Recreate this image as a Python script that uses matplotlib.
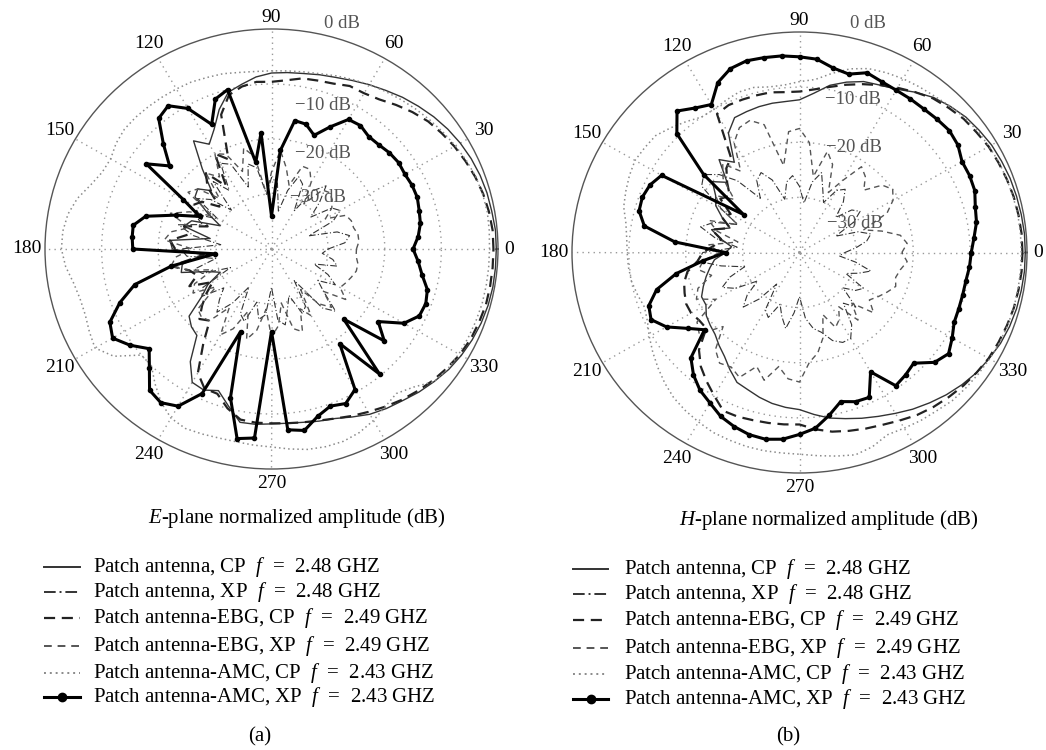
import numpy as np
import matplotlib
matplotlib.use("Agg")
import matplotlib.pyplot as plt
from matplotlib.lines import Line2D

plt.rcParams['font.family'] = ['Liberation Serif', 'DejaVu Serif']
plt.rcParams['mathtext.fontset'] = 'custom'
plt.rcParams['mathtext.rm'] = 'Liberation Serif'
plt.rcParams['mathtext.it'] = 'Liberation Serif:italic'

# angles every 5 degrees, 0..355
angles_deg = np.arange(0, 360, 5)

# ---------------- (a) E-plane, normalized amplitude in dB ----------------
e_patch_cp = [-0.3, -0.3, -0.5, -0.6, -0.8, -1.1, -1.5, -2, -2.6, -3.3, -4, -4.8,
              -5.5, -6.2, -6.8, -7.2, -7.6, -7.8, -8, -8.6, -9.6, -10.5, -13, -16,
              -18, -16, -21, -25, -23, -23.5, -27, -30, -25, -24, -29, -22,
              -22.5, -28, -24, -23.5, -28, -30, -27, -25, -21, -20, -19.5, -15,
              -12, -11.7, -12.6, -10.5, -8, -8, -8.2, -8.2, -8, -7.6, -7.2, -6.3,
              -5.3, -4.6, -4, -3.2, -2.5, -1.8, -1.3, -0.9, -0.6, -0.4, -0.3, -0.3]
e_patch_xp = [-30, -27, -26, -28, -33, -28, -26, -27, -31, -28, -25, -27,
              -32, -27, -26, -29, -33, -28, -27, -30, -25, -24, -28, -23,
              -22, -27, -24, -30, -26, -24, -29, -25, -27, -23, -26, -31,
              -24, -25, -30, -26, -27, -32, -26, -25, -29, -27, -25, -28,
              -32, -27, -26, -30, -27, -28, -33, -27, -26, -29, -31, -27,
              -28, -33, -26, -24, -28, -30, -27, -29, -32, -28, -29, -31]
e_ebg_cp = [-0.8, -0.8, -1, -1.3, -1.7, -2.2, -2.7, -3.3, -3.9, -4.8, -5.8, -6.8,
            -7.3, -7.3, -8, -8.3, -8.5, -9.2, -9.6, -9.5, -10, -11, -14, -22,
            -20, -26, -22, -24, -28, -25, -24, -26, -28, -24, -25, -22,
            -23, -28, -22, -25, -26, -24, -28, -26, -24, -22, -23, -19,
            -14, -12, -12, -10, -8.5, -8.3, -8.3, -8.2, -8, -7.7, -7.2, -6.5,
            -5.8, -5, -4.2, -3.5, -2.8, -2.2, -1.6, -1.2, -1, -0.8, -0.8, -0.8]
e_ebg_xp = [-25, -24.5, -24.5, -25, -25, -25.5, -29, -27, -26, -25.5, -26, -30,
            -26, -24, -24, -28, -25, -22, -26, -30, -23, -21, -25, -21,
            -20, -24, -22, -27, -23, -22, -28, -24, -21, -25, -22, -21,
            -26, -23, -22, -25, -29, -25, -24, -28, -23, -22.5, -23, -27,
            -22, -24, -28, -23, -25, -29, -24, -26, -30, -25, -24, -28,
            -26, -31, -27, -25, -28, -24, -26, -25.5, -25, -24.5, -24.5, -25]
e_amc_cp = [-1.5, -1.4, -1.3, -1.4, -1.6, -2, -2.5, -3, -3.5, -4, -4.5, -5,
            -5.5, -6, -6.5, -7, -7.3, -7.5, -7.6, -7.6, -7.4, -7, -6.8, -6.5,
            -6.4, -6.3, -6.2, -6.1, -6.1, -6.5, -7.2, -7, -6, -4.5, -3.5, -3,
            -2.9, -3.5, -4.5, -5, -5, -4.5, -4, -6, -10, -10, -8, -6,
            -4.5, -4, -4.2, -4.4, -4.4, -4.2, -4, -3.5, -3, -2.8, -2.8, -3.2,
            -4, -5, -5.7, -4.5, -2.5, -2, -1.8, -1.7, -1.6, -1.5, -1.5, -1.5]
e_amc_xp = [-15, -14, -13.3, -13, -12.6, -12.6, -12.8, -12.6, -12.8, -13.2, -13.3, -12.6,
            -12.8, -15.5, -18, -16.5, -16.3, -22, -34, -18.8, -24, -10, -11, -15,
            -10.5, -8.2, -9, -13, -16.5, -13, -22, -26, -22, -17, -15.2, -15.3,
            -15.5, -30, -22, -15, -11.5, -8.5, -7.6, -9.5, -11.8, -9.5, -6.5, -5.9,
            -7, -11, -24, -12, -5, -5.5, -25, -7, -6.5, -8.5, -9.6, -9,
            -10.5, -19, -10.3, -22, -14, -17, -13, -11.2, -11, -11.5, -13, -14]

# ---------------- (b) H-plane, normalized amplitude in dB ----------------
h_patch_cp = [-0.3, -0.3, -0.4, -0.5, -0.6, -0.8, -1, -1.4, -1.8, -2.5, -3.3, -4.5,
              -5.8, -6.5, -7, -8, -9.2, -11, -12.3, -12.5, -12.5, -12.6, -12.8, -13,
              -15, -20, -18, -22, -20, -22, -23, -25, -27, -24, -26, -28,
              -27, -25, -24, -23, -22, -21, -21, -20, -19.5, -19, -18, -17,
              -15.5, -14, -13.5, -12.8, -12.2, -11.8, -11.5, -10.5, -9.5, -8.8, -8, -7.2,
              -6.3, -5.3, -4.4, -3.5, -2.7, -2, -1.5, -1, -0.7, -0.5, -0.4, -0.3]
h_patch_xp = [-32, -30, -28, -27, -29, -33, -29, -27, -28, -31, -28, -26,
              -27, -30, -28, -25, -27, -31, -28, -26, -27, -30, -26, -24,
              -25, -28, -23, -20, -18, -19, -24, -28, -24, -22, -25, -29,
              -23, -22, -26, -30, -27, -25, -27, -31, -28, -26, -29, -33,
              -28, -27, -30, -28, -26, -29, -32, -28, -26, -25, -23, -22,
              -22, -24, -28, -26, -30, -28, -27, -31, -29, -27, -30, -33]
h_ebg_cp = [-0.8, -0.8, -0.9, -1, -1.2, -1.4, -1.6, -2, -2.3, -2.9, -3.5, -4.5,
            -5.5, -6.5, -7.5, -8.5, -9.5, -10.3, -10.8, -10.8, -10.5, -10.5, -10.5, -10.5,
            -11, -19, -20, -22, -24, -23, -26, -25, -27, -24, -26, -25,
            -23, -22, -20, -19, -18.5, -18, -18, -18.5, -18.6, -15, -13, -11.5,
            -10, -8.3, -8.3, -8.5, -8.6, -8.7, -8.8, -7.8, -7, -6.5, -6, -5.5,
            -4.8, -4, -3.4, -2.9, -2.4, -2, -1.6, -1.4, -1.2, -1, -0.9, -0.8]
h_ebg_xp = [-22, -21, -22, -25, -28, -23, -21, -20, -21, -24, -22, -21,
            -25, -28, -23, -21, -26, -20, -17.5, -18, -24, -16, -14.5, -15,
            -17, -22, -19, -21, -25, -22, -24, -28, -23, -25, -29, -24,
            -26, -23, -22, -24, -21, -20, -23, -18, -17, -21, -17, -15.5,
            -16, -15, -18, -16, -19, -17, -16.5, -20, -21.5, -24, -28, -25,
            -26, -28, -24, -27, -23, -25, -24, -23, -22, -22.5, -22, -21]
h_amc_cp = [-1, -1, -1, -1.1, -1.2, -1.3, -1.5, -1.7, -2, -2.5, -3, -3.3,
            -3.6, -4, -4.5, -5.5, -7, -8.5, -9, -9.5, -9.5, -9, -9, -9.5,
            -10, -10, -9, -8, -7, -6.8, -6.6, -7, -7.5, -8, -9, -9.5,
            -9.7, -9.8, -10, -10.5, -11, -10.5, -9.5, -8.5, -7.5, -6.5, -5.6, -5,
            -4.5, -4, -3.8, -3.6, -3.5, -3.5, -3.4, -3, -2.5, -2, -2.5, -3.5,
            -3.2, -2.8, -2.5, -2, -1.8, -1.6, -1.4, -1.2, -1.1, -1, -1, -1]
h_amc_xp = [-9.8, -9.2, -8.4, -8, -7.2, -7, -7, -6, -5.6, -5.8, -6, -6,
            -6, -5.8, -5.3, -6.5, -6, -4.8, -4.5, -4.2, -4.1, -4, -4.5, -6,
            -9, -8, -6.5, -9.5, -18, -28, -12, -11, -10.6, -10.8, -12.3, -18,
            -27, -23, -18, -14, -11.8, -11.2, -13, -16, -18.2, -13, -11, -9.5,
            -8.5, -7.2, -6.4, -5.8, -5.6, -6, -7, -8, -10, -12, -11.2, -11,
            -15, -10.5, -11, -11.6, -9, -8, -9, -10, -10.2, -10.3, -10.3, -10]

series_labels = ["Patch antenna, CP  $f$  =  2.48 GHZ",
                 "Patch antenna, XP  $f$  =  2.48 GHZ",
                 "Patch antenna-EBG, CP  $f$  =  2.49 GHZ",
                 "Patch antenna-EBG, XP  $f$  =  2.49 GHZ",
                 "Patch antenna-AMC, CP  $f$  =  2.43 GHZ",
                 "Patch antenna-AMC, XP  $f$  =  2.43 GHZ"]

# line styles, same order as series_labels
styles = [dict(color='#333333', lw=1.0, ls='-'),
          dict(color='#333333', lw=0.8, ls=(0, (6, 2, 1, 2))),
          dict(color='#222222', lw=1.6, ls=(0, (5, 3))),
          dict(color='#555555', lw=1.0, ls=(0, (4, 3))),
          dict(color='#8a8a8a', lw=1.1, ls=(0, (1, 2))),
          dict(color='black', lw=2.2, ls='-', marker='o', ms=3.0)]

# how far outside the circle each angle label sits (fraction of radius)
label_pos = {0: 1.05, 90: 1.05, 270: 1.065}

W, H = 1046, 750


def fx(px):
    return px / W


def fy(py):
    return 1 - py / H


def draw_panel(ax, curves):
    ax.set_aspect('auto')
    ax.set_rlim(-40, 0)
    ax.set_rticks([-30, -20, -10])
    ax.set_yticklabels([])
    ax.set_thetagrids(range(0, 360, 30))
    ax.set_xticklabels([])
    ax.grid(True, ls=(0, (1, 3)), color='#999999', lw=1.0)
    ax.spines['polar'].set_color('#555555')
    ax.spines['polar'].set_linewidth(1.0)

    theta = np.deg2rad(np.append(angles_deg, 360))
    for vals, st in zip(curves, styles):
        r = np.append(vals, vals[0])
        ax.plot(theta, r, **st)

    # angle labels outside the circle
    for a in range(0, 360, 30):
        f = label_pos.get(a, 1.08)
        ax.text(np.deg2rad(a), (f - 1) * 40, str(a), ha='center', va='center',
                fontsize=14, clip_on=False)


def draw_legend(fig, x0, x1, xt, rows):
    for (y, label, st) in zip(rows, series_labels, styles):
        if 'marker' in st:
            ln = Line2D([fx(x0), fx((x0 + x1) / 2), fx(x1)], [fy(y)] * 3,
                        transform=fig.transFigure, color='black', lw=2.2,
                        marker='o', ms=6, markevery=[1])
        else:
            ln = Line2D([fx(x0), fx(x1)], [fy(y), fy(y)],
                        transform=fig.transFigure, color=st['color'],
                        lw=max(st['lw'], 1.4), ls=st['ls'])
        fig.add_artist(ln)
        fig.text(fx(xt), fy(y), label, ha='left', va='center', fontsize=15)


fig = plt.figure(figsize=(W / 100, H / 100), dpi=100)

ax1 = fig.add_axes([fx(45), fy(469), fx(453), 440 / H], projection='polar')
draw_panel(ax1, [e_patch_cp, e_patch_xp, e_ebg_cp, e_ebg_xp, e_amc_cp, e_amc_xp])

ax2 = fig.add_axes([fx(572), fy(473), fx(455), 441 / H], projection='polar')
draw_panel(ax2, [h_patch_cp, h_patch_xp, h_ebg_cp, h_ebg_xp, h_amc_cp, h_amc_xp])

# dB ring labels
db_col = '#555555'
for (x, y, t) in [(342, 23, "0 dB"), (323, 105, "\u221210 dB"),
                  (323, 153, "\u221220 dB"), (318, 198, "\u221230 dB"),
                  (868, 24, "0 dB"), (853, 100, "\u221210 dB"),
                  (854, 147, "\u221220 dB"), (855, 224, "\u221230 dB")]:
    fig.text(fx(x), fy(y), t, ha='center', va='center', fontsize=13.5, color=db_col)

fig.text(fx(297), fy(518), "$E$-plane normalized amplitude (dB)",
         ha='center', va='center', fontsize=15)
fig.text(fx(829), fy(520), "$H$-plane normalized amplitude (dB)",
         ha='center', va='center', fontsize=15)

draw_legend(fig, 44, 80, 93, [567, 592, 618, 646, 673, 697])
draw_legend(fig, 573, 608, 624, [569, 594, 620, 648, 674, 699])

fig.text(fx(260), fy(737), "(a)", ha='center', va='center', fontsize=15)
fig.text(fx(788), fy(737), "(b)", ha='center', va='center', fontsize=15)

fig.savefig("out.png", dpi=100)
